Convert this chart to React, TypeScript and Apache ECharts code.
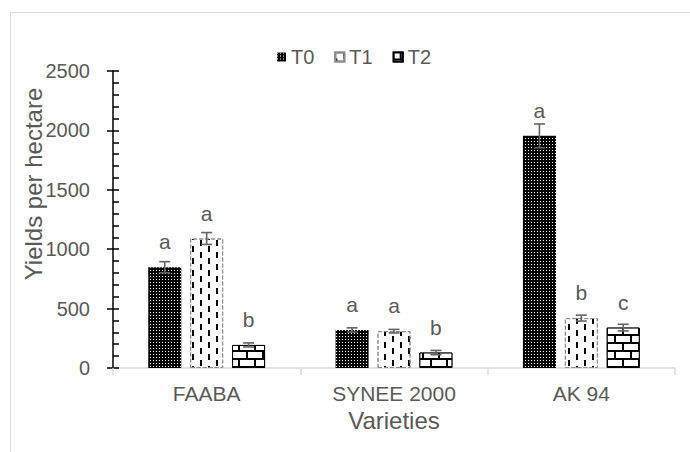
import React, { useEffect, useRef } from 'react';
import * as echarts from 'echarts';

const categories = ['FAABA', 'SYNEE 2000', 'AK 94'];
const seriesNames = ['T0', 'T1', 'T2'];
const t0Values = [848, 320, 1954];
const t0Errors = [47, 18, 100];
const t0Letters = ['a', 'a', 'a'];
const t1Values = [1090, 310, 420];
const t1Errors = [50, 15, 25];
const t1Letters = ['a', 'a', 'b'];
const t2Values = [194, 130, 340];
const t2Errors = [17, 18, 28];
const t2Letters = ['b', 'b', 'c'];
const yMin = 0;
const yMax = 2500;
const yInterval = 500;
const xTitle = 'Varieties';
const yTitle = 'Yields per hectare';

const FONT = '"Liberation Sans", Arial, sans-serif';
const TEXT = '#595959';
const BAR_W = 33;
const BAR_GAP = 0.27;

export default function App() {
  const ref = useRef<HTMLDivElement>(null);
  useEffect(() => {
    if (!ref.current) return;
    const chart = echarts.init(ref.current, null, { renderer: 'svg' });
    const values = [t0Values, t1Values, t2Values];
    const errors = [t0Errors, t1Errors, t2Errors];
    const letters = [t0Letters, t1Letters, t2Letters];
    const decals: any[] = [
      {
        symbol: 'rect', symbolSize: 1, symbolKeepAspect: false,
        color: '#ffffff',
        dashArrayX: [1, 2], dashArrayY: [1, 2], rotation: 0,
      },
      {
        symbol: 'rect', symbolSize: 1, symbolKeepAspect: false,
        color: '#000000',
        dashArrayX: [[2, 14], [0, 8, 2, 6]], dashArrayY: [6, 0], rotation: 0,
      },
      {
        symbol: 'rect', symbolSize: 1, symbolKeepAspect: false,
        color: '#ffffff',
        dashArrayX: [[14, 2], [6, 2, 8, 0]], dashArrayY: [6, 2], rotation: 0,
      },
    ];
    const fills = ['#000000', '#ffffff', '#000000'];
    const borders = [
      { borderColor: '#000000', borderWidth: 0, borderType: 'solid' },
      { borderColor: '#8c8c8c', borderWidth: 1, borderType: 'dashed' },
      { borderColor: '#000000', borderWidth: 1, borderType: 'solid' },
    ];
    const barSeries = seriesNames.map((name, s) => ({
      name,
      type: 'bar',
      barWidth: BAR_W,
      barGap: `${BAR_GAP * 100}%`,
      data: values[s],
      itemStyle: { color: fills[s], decal: decals[s], ...borders[s] },
      label: {
        show: true,
        position: 'top',
        distance: 15,
        color: TEXT,
        fontSize: 21,
        fontFamily: FONT,
        formatter: (p: any) => letters[s][p.dataIndex],
      },
      z: 2,
    }));
    const errSeries = seriesNames.map((name, s) => ({
      name: name + ' error',
      type: 'custom',
      z: 5,
      encode: { x: 0, y: 1 },
      data: values[s].map((v, i) => [i, v, errors[s][i]]),
      renderItem: (params: any, api: any) => {
        const i = api.value(0);
        const v = api.value(1);
        const e = api.value(2);
        const top = api.coord([i, v + e]);
        const bot = api.coord([i, v - e]);
        const x = top[0] + (s - 1) * BAR_W * (1 + BAR_GAP);
        const cap = 5.5;
        const style = { stroke: '#636363', lineWidth: 1.6 };
        return {
          type: 'group',
          children: [
            { type: 'line', shape: { x1: x, y1: top[1], x2: x, y2: bot[1] }, style },
            { type: 'line', shape: { x1: x - cap, y1: top[1], x2: x + cap, y2: top[1] }, style },
            { type: 'line', shape: { x1: x - cap, y1: bot[1], x2: x + cap, y2: bot[1] }, style },
          ],
        };
      },
    }));
    const option: any = {
      animation: false,
      backgroundColor: '#ffffff',
      textStyle: { fontFamily: FONT },
      grid: { left: 113, right: 15, top: 71, bottom: 84, containLabel: false },
      legend: {
        data: seriesNames,
        top: 42,
        left: 272,
        icon: 'rect',
        itemWidth: 9,
        itemHeight: 9,
        itemGap: 20,
        textStyle: { color: TEXT, fontSize: 20, fontFamily: FONT },
      },
      xAxis: {
        type: 'category',
        data: categories,
        name: xTitle,
        nameLocation: 'middle',
        nameGap: 40,
        nameTextStyle: { color: TEXT, fontSize: 24, fontFamily: FONT },
        axisLine: { lineStyle: { color: '#d9d9d9', width: 1.5 } },
        axisTick: { show: true, length: 7, lineStyle: { color: '#d9d9d9', width: 1.5 } },
        axisLabel: { color: TEXT, fontSize: 21, margin: 15, fontFamily: FONT },
      },
      yAxis: [
        {
          type: 'value',
          min: yMin,
          max: yMax,
          interval: yInterval,
          axisLine: { show: true, lineStyle: { color: '#000000', width: 1.5 } },
          axisTick: { show: true, inside: true, length: 6, lineStyle: { color: '#000000', width: 1.5 } },
          minorTick: { show: true, splitNumber: 5, length: 6, lineStyle: { color: '#000000', width: 1.5 } },
          splitLine: { show: false },
          axisLabel: {
            color: TEXT, fontSize: 20, margin: 23, fontFamily: FONT,
            formatter: (v: number) => String(v),
          },
        },
        {
          type: 'value',
          position: 'left',
          min: yMin,
          max: yMax,
          interval: yInterval,
          axisLine: { show: false },
          axisTick: { show: true, inside: false, length: 6, lineStyle: { color: '#000000', width: 1.5 } },
          splitLine: { show: false },
          axisLabel: { show: false },
        },
      ],
      series: [...barSeries, ...errSeries],
      graphic: [
        {
          type: 'rect',
          silent: true,
          shape: { x: 10.5, y: 12.5, width: 700, height: 460 },
          style: { fill: 'none', stroke: '#d9d9d9', lineWidth: 1 },
          z: -10,
        },
        {
          type: 'text',
          x: 33,
          y: 184,
          rotation: Math.PI / 2,
          style: {
            text: yTitle,
            fill: TEXT,
            fontSize: 24,
            fontFamily: FONT,
            textAlign: 'center',
            textVerticalAlign: 'middle',
          },
        },
      ],
    };
    chart.setOption(option);
    return () => chart.dispose();
  }, []);
  return <div ref={ref} style={{ position: 'fixed', left: 0, top: 0, width: 690, height: 452 }} />;
}
